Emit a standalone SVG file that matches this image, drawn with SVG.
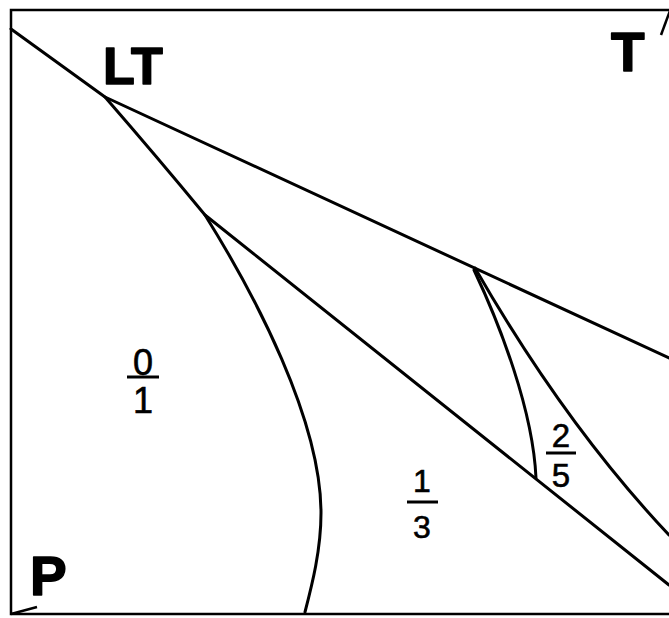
<svg xmlns="http://www.w3.org/2000/svg" width="669" height="618" viewBox="0 0 669 618">
<style>
.frame{fill:none;stroke:#000;stroke-width:2.5}
.ln{fill:none;stroke:#000;stroke-width:3;stroke-linecap:round;stroke-linejoin:round}
.big{font-family:"Liberation Sans",Arial,sans-serif;font-weight:bold;font-size:52px;fill:#000;stroke:#000;stroke-width:1.5;stroke-linejoin:round}
.num{font-family:"Liberation Sans",Arial,sans-serif;font-size:34px;fill:#000;stroke:#000;stroke-width:0.6;text-anchor:middle}
.bar{stroke:#000;stroke-width:3}
</style>
<rect width="669" height="618" fill="#fff"/>
<g id="axes">
<path class="frame" d="M671,10 H11 V614 H671"/>
<path class="frame" d="M11,614 L37,607"/>
<path class="frame" d="M661,35 L671,8"/>
</g>
<g id="connectors">
<path class="ln" d="M11,29 L105,97 L669,358"/>
<path class="ln" d="M205,215 L669,585"/>
<path class="ln" d="M105,97 Q158,158 205,215 C255,295 321,420 321,513 C321,550 312,585 305,612"/>
<path class="ln" d="M474,270 C500,325 533,410 536,478"/>
<path class="ln" d="M475,268 C502,315 570,430 669,535"/>
</g>
<g id="LT"><text class="big" x="103" y="84">LT</text></g>
<g id="T"><text class="big" x="611" y="71" style="font-size:55px">T</text></g>
<g id="P"><text class="big" x="30" y="595" style="font-size:55px">P</text></g>
<g id="f01">
<text class="num" x="143" y="375" style="font-size:36px">0</text>
<line class="bar" x1="127" y1="377" x2="159" y2="377"/>
<text class="num" x="143" y="413" style="font-size:36px">1</text>
</g>
<g id="f13">
<text class="num" x="422" y="492" style="font-size:32px">1</text>
<line class="bar" x1="407" y1="502" x2="438" y2="502"/>
<text class="num" x="422" y="538" style="font-size:32px">3</text>
</g>
<g id="f25">
<text class="num" x="561" y="447" style="font-size:33px">2</text>
<line class="bar" x1="546" y1="453" x2="576" y2="453"/>
<text class="num" x="561" y="487" style="font-size:33px">5</text>
</g>
</svg>
